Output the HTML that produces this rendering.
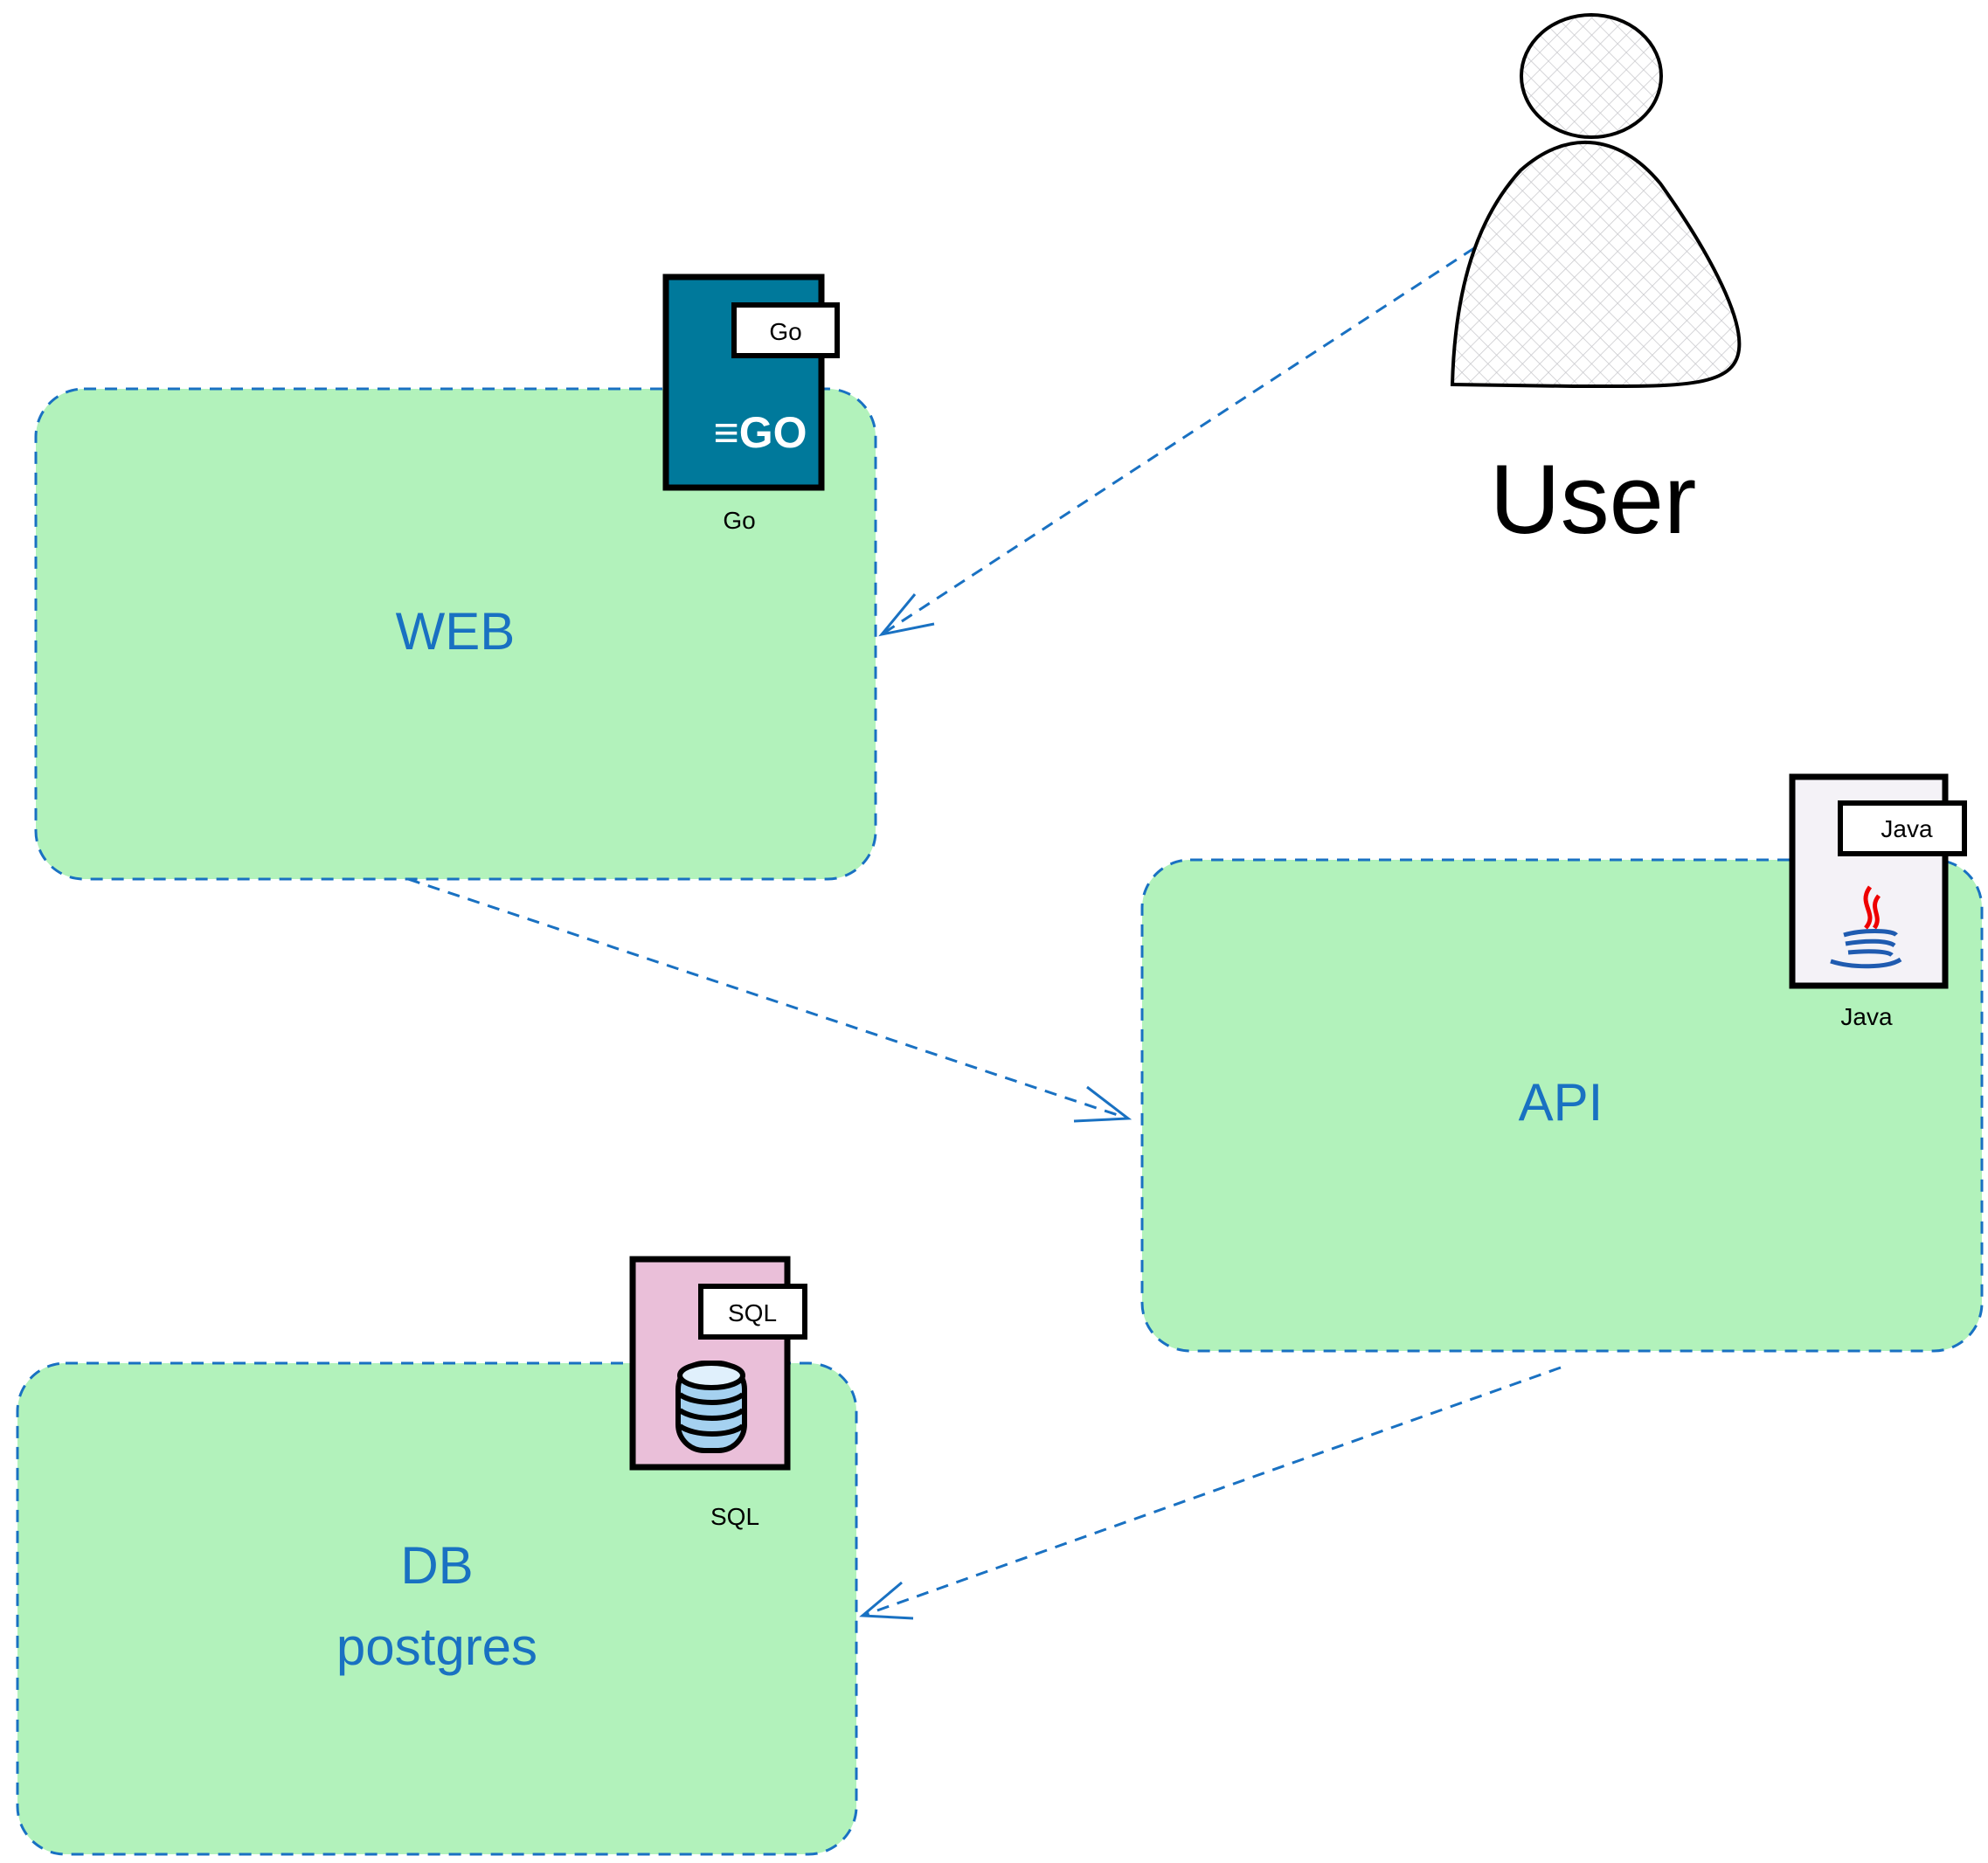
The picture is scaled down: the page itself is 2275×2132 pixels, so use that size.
<!DOCTYPE html>
<html><head><meta charset="utf-8"><style>
html,body{margin:0;padding:0;background:#fff;width:2275px;height:2132px;overflow:hidden}
svg text{font-family:"Liberation Sans",sans-serif}
</style></head><body>
<svg width="2275" height="2132" viewBox="0 0 2275 2132" xmlns="http://www.w3.org/2000/svg">
<defs>
<pattern id="h" width="14" height="14" patternUnits="userSpaceOnUse" patternTransform="rotate(45)">
<rect width="14" height="14" fill="#fff"/>
<path d="M0 0H14M0 0V14" stroke="#c8c8cc" stroke-width="1.5"/>
</pattern>
</defs>
<!-- boxes -->
<g fill="#b2f2bb" stroke="#1971c2" stroke-width="3" stroke-dasharray="14 10">
<rect x="41" y="445" width="961" height="561" rx="55"/>
<rect x="1307" y="984" width="961" height="562" rx="55"/>
<rect x="20" y="1560" width="960" height="562" rx="55"/>
</g>
<!-- arrows -->
<g stroke="#1971c2" stroke-width="3" fill="none">
<path d="M1687 284 L1009 726" stroke-dasharray="14 10"/>
<path d="M1069 714 L1009 726 L1047 680"/>
<path d="M467 1006 L1291 1280" stroke-dasharray="14 10"/>
<path d="M1229 1283 L1291 1280 L1244 1244"/>
<path d="M1786 1565 L987 1849" stroke-dasharray="14 10"/>
<path d="M1045 1852 L987 1849 L1032 1811"/>
</g>
<!-- user -->
<ellipse cx="1821" cy="87" rx="80" ry="70" fill="url(#h)" stroke="#000" stroke-width="4"/>
<path d="M1662 440 C1665 330 1690 250 1740 195 C1790 150 1850 150 1900 210 C1950 280 1995 360 1990 400 C1985 445 1920 442 1800 442 Z" fill="url(#h)" stroke="#000" stroke-width="4"/>
<text x="1823" y="610" font-size="112" text-anchor="middle" fill="#000">User</text>
<!-- labels -->
<g fill="#1971c2" font-size="60" text-anchor="middle">
<text x="521" y="743">WEB</text>
<text x="1786" y="1282">API</text>
<text x="500" y="1812">DB</text>
<text x="500" y="1905">postgres</text>
</g>
<!-- Go icon -->
<rect x="762" y="317" width="178" height="241" fill="#00799b" stroke="#000" stroke-width="7"/>
<rect x="840" y="349" width="118" height="58" fill="#fff" stroke="#000" stroke-width="6"/>
<text x="899" y="389" font-size="28" text-anchor="middle">Go</text>
<text x="870" y="512" font-size="50" font-weight="bold" text-anchor="middle" fill="#fff">≡GO</text>
<text x="846" y="605" font-size="28" text-anchor="middle">Go</text>
<!-- Java icon -->
<rect x="2051" y="889" width="175" height="239" fill="#f4f2f7" stroke="#000" stroke-width="7"/>
<rect x="2106" y="919" width="142" height="58" fill="#fff" stroke="#000" stroke-width="6"/>
<text x="2182" y="958" font-size="28" text-anchor="middle">Java</text>
<path d="M2140 1015 C2125 1035 2150 1045 2135 1062 M2150 1025 C2138 1040 2155 1048 2145 1062" stroke="#e00" stroke-width="5" fill="none"/>
<g stroke="#1f5bb0" stroke-width="5" fill="none">
<path d="M2110 1070 C2130 1064 2165 1064 2170 1070"/>
<path d="M2112 1080 C2135 1076 2160 1076 2168 1082"/>
<path d="M2115 1090 C2135 1088 2160 1088 2165 1093"/>
<path d="M2095 1100 C2120 1108 2160 1108 2175 1098"/>
</g>
<text x="2136" y="1173" font-size="28" text-anchor="middle">Java</text>
<!-- SQL icon -->
<rect x="724" y="1441" width="177" height="238" fill="#eabfd9" stroke="#000" stroke-width="7"/>
<rect x="802" y="1472" width="119" height="58" fill="#fff" stroke="#000" stroke-width="6"/>
<text x="861" y="1512" font-size="28" text-anchor="middle">SQL</text>
<g stroke="#000" stroke-width="6">
<rect x="776" y="1560" width="76" height="100" rx="30" fill="#a5d1f0"/>
<ellipse cx="814" cy="1574" rx="36" ry="14" fill="#e0f0fc"/>
<path d="M778 1596 C795 1608 835 1608 850 1596 M778 1614 C795 1626 835 1626 850 1614 M778 1632 C795 1644 835 1644 850 1632" fill="none"/>
</g>
<text x="841" y="1745" font-size="28" text-anchor="middle">SQL</text>
</svg>
</body></html>
